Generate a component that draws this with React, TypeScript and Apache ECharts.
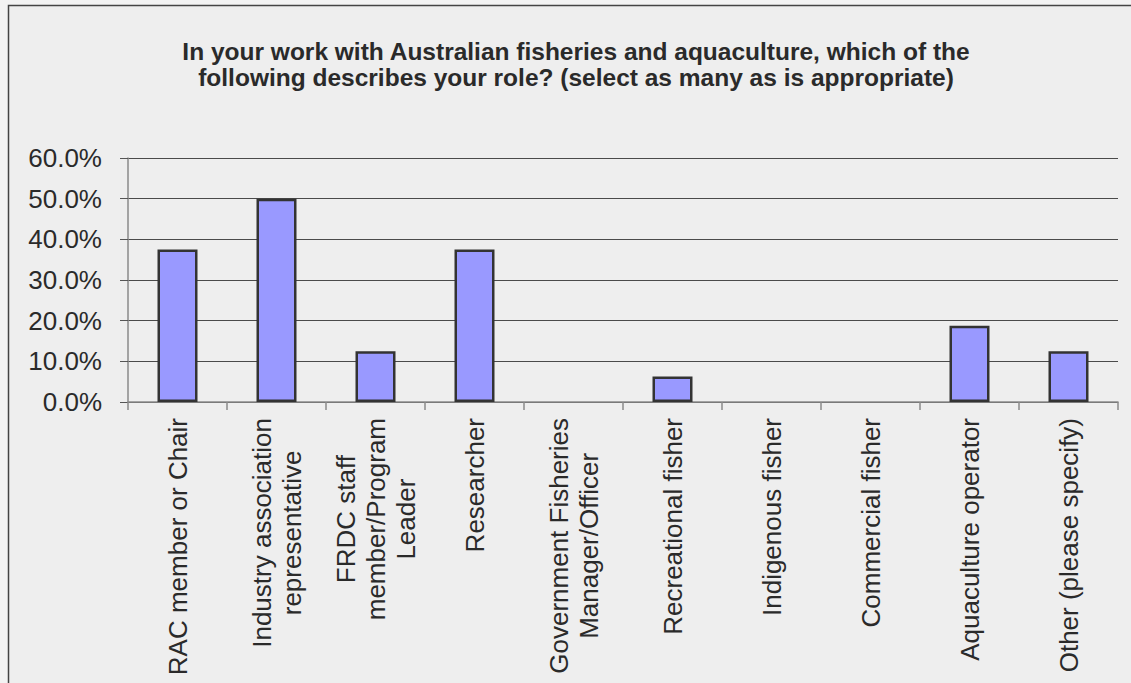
import React, { useEffect, useRef } from "react";
import * as echarts from "echarts";

// Survey responses: share of respondents selecting each role
const categories: string[] = [
  "RAC member or Chair",
  "Industry association\nrepresentative",
  "FRDC staff\nmember/Program\nLeader",
  "Researcher",
  "Government Fisheries\nManager/Officer",
  "Recreational fisher",
  "Indigenous fisher",
  "Commercial fisher",
  "Aquaculture operator",
  "Other (please specify)",
];

const shares: number[] = [0.375, 0.5, 0.125, 0.375, 0, 0.0625, 0, 0, 0.1875, 0.125];

const titleLines: string[] = [
  "In your work with Australian fisheries and aquaculture, which of the",
  "following describes your role? (select as many as is appropriate)",
];

const yTicks = { min: 0, max: 0.6, interval: 0.1 };

const FONT = "'Liberation Sans', Arial, Helvetica, sans-serif";
const TEXT = "#2A2A2A";

export default function App() {
  const ref = useRef<HTMLDivElement>(null);

  useEffect(() => {
    if (!ref.current) return;
    const chart = echarts.init(ref.current, undefined, { renderer: "svg" });

    chart.setOption({
      animation: false,
      backgroundColor: "#F3F3F3",
      textStyle: { fontFamily: FONT },
      graphic: [
        {
          type: "rect",
          z: -10,
          silent: true,
          shape: { x: 8.5, y: 5.5, width: 1200, height: 800 },
          style: { fill: "#EEEEEE", stroke: "#444444", lineWidth: 1.5 },
        },
      ],
      title: {
        text: titleLines.join("\n"),
        left: 571,
        textAlign: "center",
        top: 33,
        textStyle: {
          fontFamily: FONT,
          fontSize: 24.5,
          fontWeight: "bold",
          lineHeight: 26,
          color: TEXT,
        },
      },
      grid: { left: 128, right: 13, top: 158, bottom: 281 },
      xAxis: {
        type: "category",
        data: categories,
        axisLine: { show: true, lineStyle: { color: "#8A8A8A", width: 1.5 } },
        axisTick: { show: true, length: 8, lineStyle: { color: "#8A8A8A", width: 1.5 } },
        axisLabel: {
          interval: 0,
          rotate: 90,
          margin: 16,
          color: TEXT,
          fontSize: 26,
          lineHeight: 30,
          fontFamily: FONT,
          formatter: (v: string) =>
            v
              .split("\n")
              .map((l) => "{c|" + l + "}")
              .join("\n"),
          rich: {
            c: { align: "center", fontSize: 26, lineHeight: 30, color: TEXT, fontFamily: FONT },
          },
        },
      },
      yAxis: {
        type: "value",
        min: yTicks.min,
        max: yTicks.max,
        interval: yTicks.interval,
        axisLine: { show: true, lineStyle: { color: "#8A8A8A", width: 1.5 } },
        axisTick: { show: true, length: 8, lineStyle: { color: "#555555" } },
        axisLabel: {
          margin: 26,
          color: TEXT,
          fontSize: 26,
          fontFamily: FONT,
          formatter: (v: number) => (v * 100).toFixed(1) + "%",
        },
        splitLine: { show: true, lineStyle: { color: "#4A4A4A", width: 1 } },
      },
      series: [
        {
          type: "bar",
          barWidth: 40,
          data: shares.map((v) =>
            v === 0 ? { value: v, itemStyle: { borderWidth: 0 } } : { value: v }
          ),
          itemStyle: { color: "#9999FF", borderColor: "#333333", borderWidth: 2.5 },
        },
      ],
    });

    return () => chart.dispose();
  }, []);

  return (
    <div
      ref={ref}
      style={{ position: "absolute", left: 0, top: 0, width: 1131, height: 683 }}
    />
  );
}
